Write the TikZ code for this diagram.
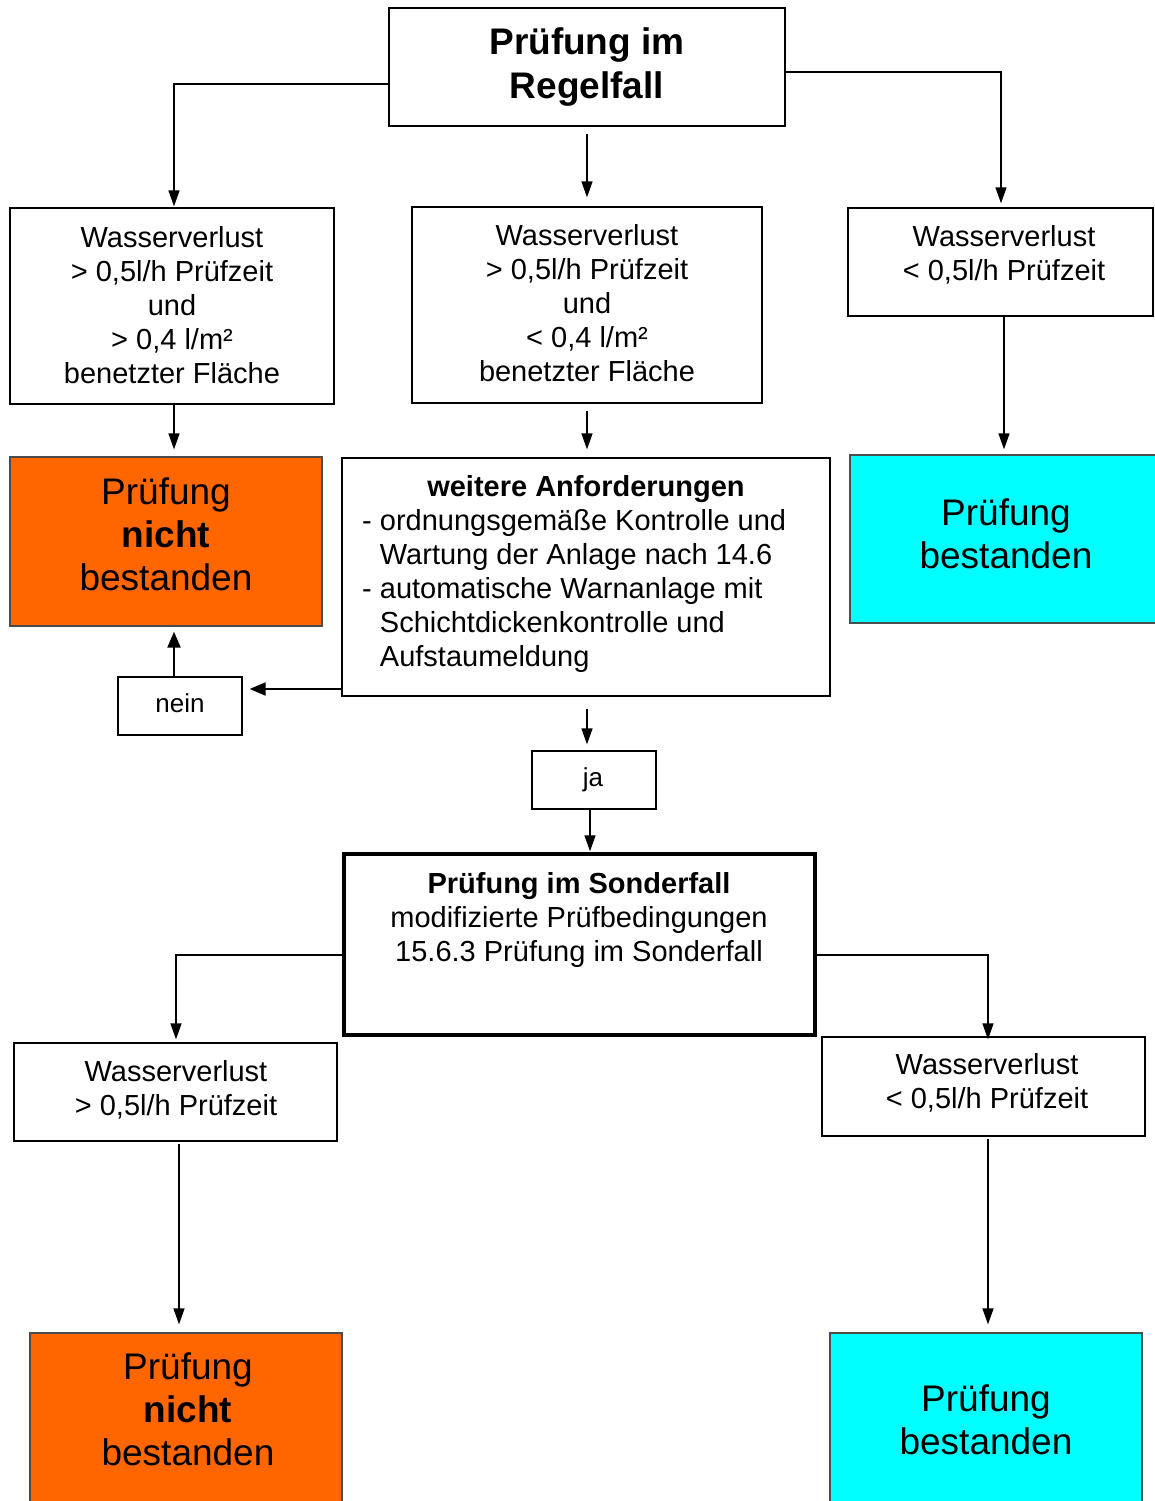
\documentclass[tikz,border=0pt]{standalone}
\usepackage{fontspec}
\setmainfont{Liberation Sans}
\usetikzlibrary{arrows.meta}
\definecolor{fail}{HTML}{FF6600}
\definecolor{pass}{HTML}{00FFFF}
\begin{document}
\begin{tikzpicture}[x=1pt,y=-1pt,
  box/.style={draw=black,line width=1.3pt,rectangle,inner sep=0pt},
  failbox/.style={box,fill=fail,draw=black!70},
  passbox/.style={box,fill=pass,draw=black!70},
  txt/.style={align=center,inner sep=0pt,font=\fontsize{29}{34}\selectfont},
  bigtxt/.style={align=center,inner sep=0pt,font=\fontsize{37}{43}\selectfont},
  smalltxt/.style={align=center,inner sep=0pt,font=\fontsize{26}{30}\selectfont},
  arr/.style={line width=1.4pt,-{Triangle[length=16pt,width=11pt]}},
  arrb/.style={line width=2pt,-{Triangle[length=16pt,width=13pt]}}]
\useasboundingbox (0,0) rectangle (1155,1501);
\fill[white] (0,0) rectangle (1155,1501);

% top box
\node[box,line width=2.5pt,minimum width=396pt,minimum height=118pt] (top) at (587,67) {};
\node[align=center,inner sep=0pt,font=\fontsize{37}{44}\selectfont\bfseries] (topt) at (587,67) {Prüfung im\\Regelfall};

% second row
\node[box,minimum width=324pt,minimum height=196pt] (L1) at (172,306) {};
\node[txt] (L1t) at (172,305) {Wasserverlust\\> 0,5l/h Prüfzeit\\und\\> 0,4 l/m²\\benetzter Fläche};
\node[box,minimum width=350pt,minimum height=196pt] (M1) at (587,305) {};
\node[txt] (M1t) at (587,303) {Wasserverlust\\> 0,5l/h Prüfzeit\\und\\< 0,4 l/m²\\benetzter Fläche};
\node[box,minimum width=305pt,minimum height=108pt] (R1) at (1000.5,262) {};
\node[txt] (R1t) at (1004,255) {Wasserverlust\\< 0,5l/h Prüfzeit};

% third row
\node[failbox,minimum width=312pt,minimum height=169pt] (L2) at (166,541.5) {};
\node[bigtxt] (L2t) at (166,534) {Prüfung\\\textbf{nicht}\\bestanden};
\node[box,minimum width=488pt,minimum height=238pt] (W) at (586,577) {};
\node[txt,font=\fontsize{29}{34}\selectfont\bfseries] (Wt) at (586,489) {weitere Anforderungen};
\node[txt,align=left,anchor=north west] (Wl) at (362,509) {- ordnungsgemäße Kontrolle und\\\phantom{- }Wartung der Anlage nach 14.6\\- automatische Warnanlage mit\\\phantom{- }Schichtdickenkontrolle und\\\phantom{- }Aufstaumeldung};
\node[passbox,minimum width=310pt,minimum height=168pt] (R2) at (1005,539) {};
\node[bigtxt] (R2t) at (1006,534) {Prüfung\\bestanden};

% nein / ja
\node[box,minimum width=124pt,minimum height=58pt] (nein) at (180,706) {};
\node[smalltxt] (neint) at (180,703) {nein};
\node[box,minimum width=124pt,minimum height=58pt] (ja) at (594,780) {};
\node[smalltxt] (jat) at (593,780) {ja};

% Sonderfall
\node[box,line width=3.5pt,minimum width=471pt,minimum height=181pt] (S) at (579.5,944.5) {};
\node[txt] (St) at (579,920) {\textbf{Prüfung im Sonderfall}\\modifizierte Prüfbedingungen\\15.6.3 Prüfung im Sonderfall};

% lower rows
\node[box,minimum width=323pt,minimum height=98pt] (L3) at (175.5,1092) {};
\node[txt] (L3t) at (176,1090) {Wasserverlust\\> 0,5l/h Prüfzeit};
\node[box,minimum width=323pt,minimum height=99pt] (R3) at (983.5,1086.5) {};
\node[txt] (R3t) at (987,1083) {Wasserverlust\\< 0,5l/h Prüfzeit};
\node[failbox,minimum width=312pt,minimum height=172pt] (L4) at (186,1419) {};
\node[bigtxt] (L4t) at (188,1409) {Prüfung\\\textbf{nicht}\\bestanden};
\node[passbox,minimum width=312pt,minimum height=172pt] (R4) at (986,1419) {};
\node[bigtxt] (R4t) at (986,1420) {Prüfung\\bestanden};

% connectors
\draw[arr] ([yshift=-17pt]top.west) -| ([xshift=2pt,yshift=1pt]L1.north);
\draw[arr] ([yshift=-7pt]top.south) -- ([yshift=9pt]M1.north);
\draw[arr] ([yshift=-5pt]top.east) -| ([xshift=0.5pt,yshift=4pt]R1.north);
\draw[arr] ([xshift=2pt]L1.south) -- ([xshift=8pt,yshift=7pt]L2.north);
\draw[arr] ([yshift=-7pt]M1.south) -- ([xshift=1pt,yshift=8pt]W.north);
\draw[arr] ([xshift=3.5pt]R1.south) -- ([xshift=-1pt,yshift=5pt]R2.north);
\draw[arrb] ([yshift=-112pt]W.west) -- ([xshift=7pt,yshift=17pt]nein.east);
\draw[arrb] ([xshift=-6pt,yshift=-2pt]nein.north) -- ([xshift=8pt,yshift=-5pt]L2.south);
\draw[arr] ([xshift=1pt,yshift=-12pt]W.south) -- ([xshift=-7pt,yshift=6pt]ja.north);
\draw[arr] ([xshift=-4pt,yshift=2pt]ja.south) -- ([xshift=10.5pt,yshift=1pt]S.north);
\draw[arr] ([yshift=-10.5pt]S.west) -| ([xshift=0.5pt,yshift=3pt]L3.north);
\draw[arr] ([yshift=-10.5pt]S.east) -| ([xshift=4.5pt,yshift=-3pt]R3.north);
\draw[arr] ([xshift=3.5pt,yshift=-2pt]L3.south) -- ([xshift=-7pt,yshift=8pt]L4.north);
\draw[arr] ([xshift=4.5pt,yshift=-2pt]R3.south) -- ([xshift=2pt,yshift=8pt]R4.north);
\end{tikzpicture}
\end{document}
